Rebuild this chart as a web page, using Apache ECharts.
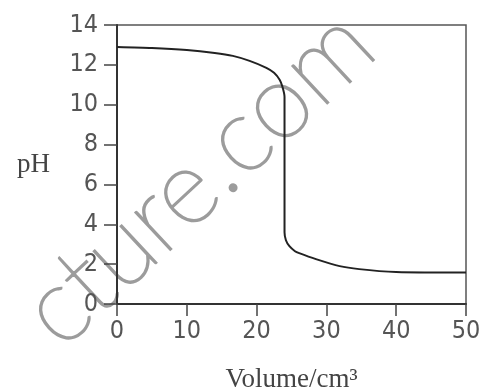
<!DOCTYPE html>
<html><head><meta charset="utf-8">
<script src="https://cdn.jsdelivr.net/npm/echarts@6/dist/echarts.min.js"></script>
<style>html,body{margin:0;padding:0;background:#fff}#c{width:480px;height:389px}</style>
</head><body><div id="c"></div>
<script>
const volume = [0, 5, 10, 14, 16.6, 19, 21.4, 22.5, 23.3, 23.7, 24.0, 24.0, 24.2, 24.7, 25.5, 26.1, 28.5, 31.9, 34.7, 40, 45, 50];
const pH     = [12.9, 12.85, 12.75, 12.6, 12.45, 12.2, 11.85, 11.6, 11.25, 10.9, 10.4, 3.6, 3.2, 2.9, 2.65, 2.55, 2.25, 1.9, 1.75, 1.6, 1.58, 1.58];
const xTicks = [0, 10, 20, 30, 40, 50];
const yTicks = [0, 2, 4, 6, 8, 10, 12, 14];
const xTitle = 'Volume/cm³';
const yTitle = 'pH';
const watermark = 'cture.com';

const chart = echarts.init(document.getElementById('c'));
const numFont = "'Liberation Sans Narrow', 'DejaVu Sans Condensed', sans-serif";
const titleFont = "'Liberation Serif', serif";
chart.setOption({
  animation: false,
  grid: {left: 117, right: 14, top: 25, bottom: 85, show: true, borderColor: '#555', borderWidth: 1.5,
    containLabel: false, outerBoundsMode: 'none'},
  xAxis: {
    type: 'value', min: xTicks[0], max: xTicks[xTicks.length-1], interval: 10,
    axisLine: {lineStyle: {color: '#333', width: 2}},
    axisTick: {inside: false, length: 12, lineStyle: {color: '#444', width: 1.5}},
    splitLine: {show: false},
    axisLabel: {color: '#555', fontFamily: numFont, fontSize: 25, margin: 15},
    name: xTitle, nameLocation: 'middle', nameGap: 62,
    nameTextStyle: {color: '#444', fontFamily: titleFont, fontSize: 27}
  },
  yAxis: {
    type: 'value', min: yTicks[0], max: yTicks[yTicks.length-1], interval: 2,
    axisLine: {lineStyle: {color: '#333', width: 2}},
    axisTick: {inside: false, length: 13, lineStyle: {color: '#444', width: 1.5}},
    splitLine: {show: false},
    axisLabel: {color: '#555', fontFamily: numFont, fontSize: 25, margin: 19},
    name: yTitle, nameLocation: 'middle', nameGap: 67, nameRotate: 0,
    nameTextStyle: {color: '#444', fontFamily: titleFont, fontSize: 27, padding: [6, 0, 0, 0]}
  },
  series: [{
    type: 'line', data: volume.map((v, i) => [v, pH[i]]), showSymbol: false, smooth: 0.25,
    lineStyle: {color: '#222', width: 2}
  }],
  graphic: [{
    type: 'text', x: 198, y: 178, rotation: 43 * Math.PI / 180, silent: true,
    style: {text: watermark, fill: '#9c9c9c', stroke: '#9c9c9c', lineWidth: 2.2,
      font: '100 104px Lato', align: 'center', verticalAlign: 'middle'}
  }]
});
</script></body></html>
